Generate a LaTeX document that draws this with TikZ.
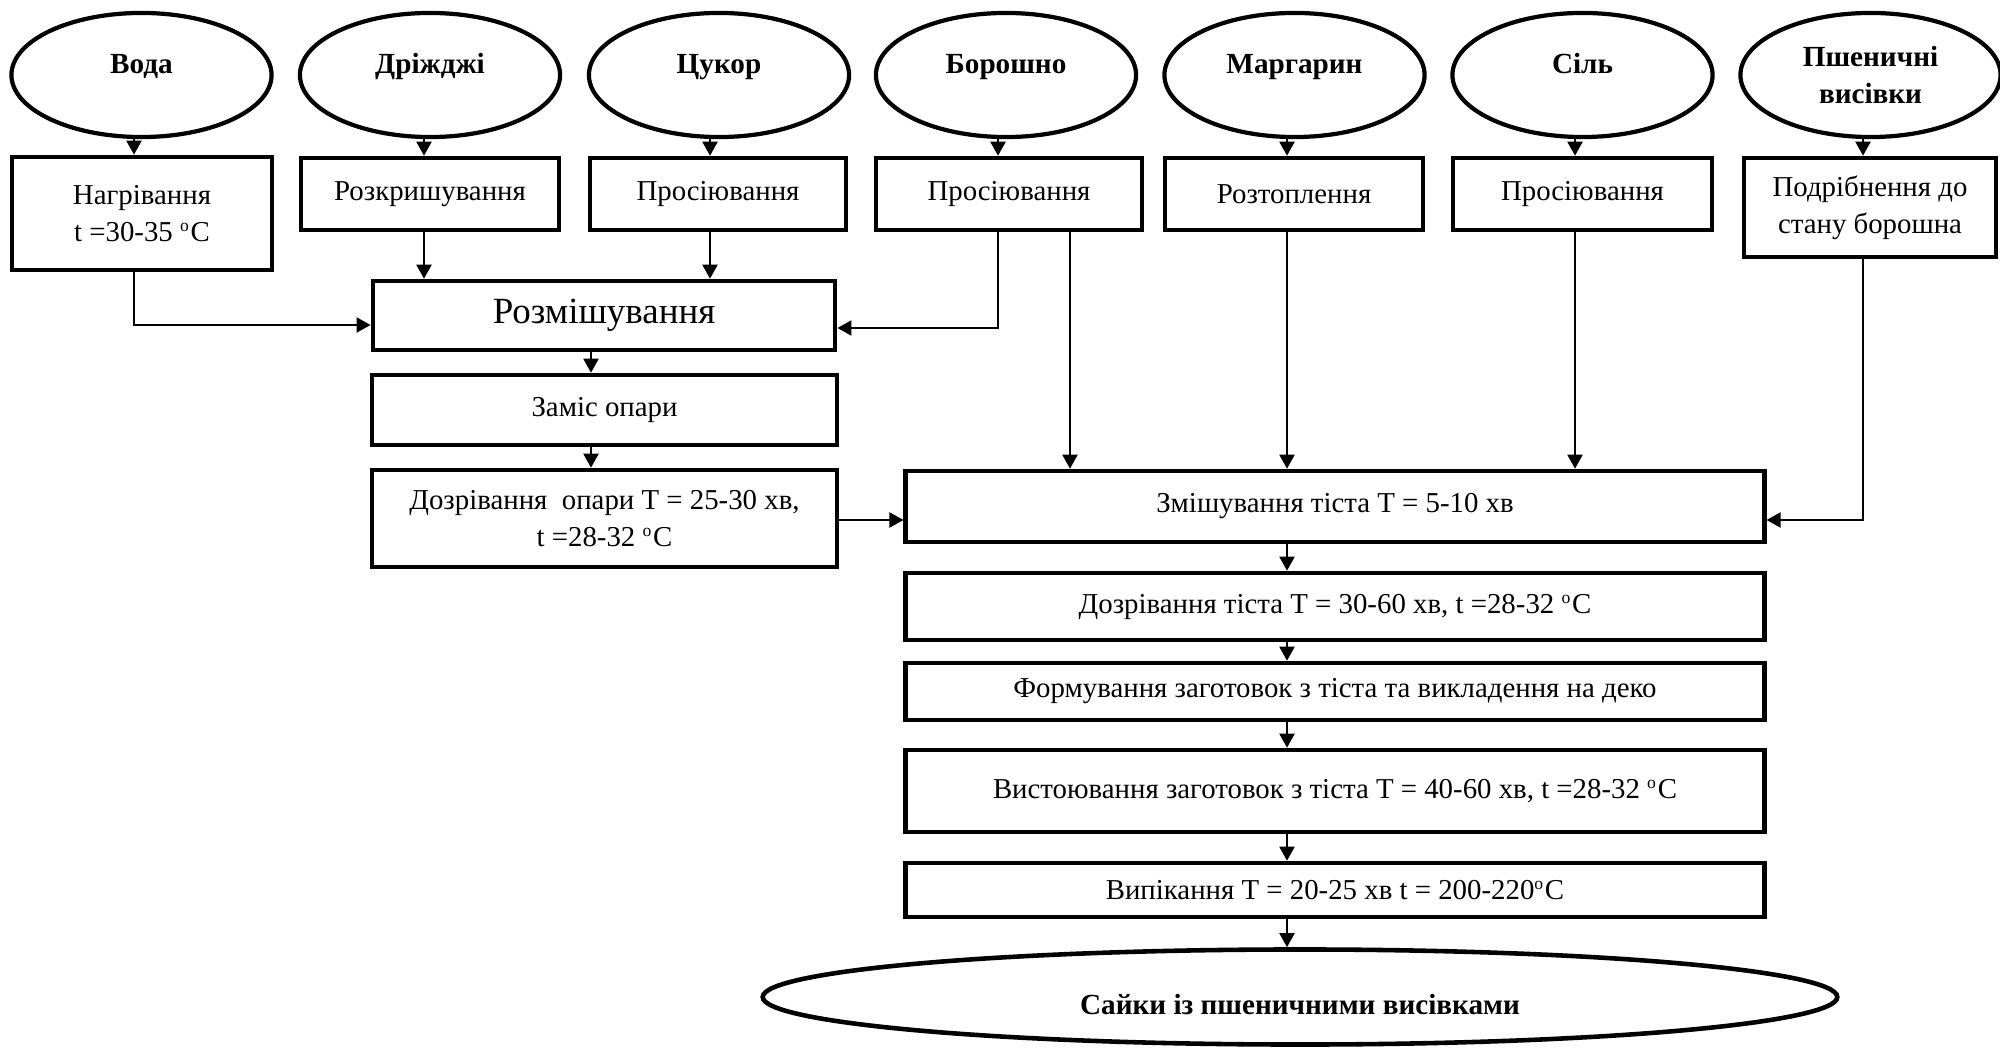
\documentclass[tikz,border=0pt]{standalone}
\usepackage{fontspec}
\setmainfont{Liberation Serif}
\usetikzlibrary{shapes.geometric,arrows.meta,positioning}

\newcommand{\degC}{\textsuperscript{\fontsize{5}{5}\selectfont o}C}

\tikzset{
  src/.style={ellipse, draw, line width=1.2pt, minimum width=2.6cm, minimum height=1.24cm,
    inner sep=0pt, align=center, font=\fontsize{8.3}{10.5}\selectfont\bfseries},
  srcone/.style={src, text height=6pt, text depth=7pt},
  opbox/.style={rectangle, draw, line width=1.3pt, inner sep=0pt, align=center,
    font=\fontsize{8.2}{10.5}\selectfont},
  arr/.style={line width=0.6pt, -{Triangle[length=0.14cm,width=0.15cm]}},
  ln/.style={line width=0.6pt}
}

\begin{document}
\begin{tikzpicture}[x=0.01cm, y=-0.01cm]
  \useasboundingbox (0,0) rectangle (2000,1049);

  % columns of the connectors
  \coordinate (c1) at (134,0);
  \coordinate (c2) at (424,0);
  \coordinate (c3) at (710,0);
  \coordinate (c4) at (998,0);
  \coordinate (c5) at (1070,0);
  \coordinate (c6) at (1287,0);
  \coordinate (c7) at (1575,0);
  \coordinate (c8) at (1863,0);
  \coordinate (cm) at (591,0);
  \coordinate (h1) at (0,325);
  \coordinate (h2) at (0,328);
  \coordinate (h3) at (0,520);

  % raw materials
  \node [srcone] (voda)   at (141.5,75)  {Вода};
  \node [srcone] (drizh)  at (430,75)    {Дріжджі};
  \node [srcone] (tsukor) at (719,75)    {Цукор};
  \node [srcone] (borosh) at (1006,75)   {Борошно};
  \node [srcone] (marg)   at (1294.5,75) {Маргарин};
  \node [srcone] (sil)    at (1582.5,75) {Сіль};
  \node [src]    (vysiv)  at (1870.5,75) {Пшеничні\\висівки};

  % preparation
  \node [opbox, minimum width=2.6cm, minimum height=1.13cm]  (nagriv) at (142,213.5)
    {Нагрівання\\t =30-35 \degC};
  \node [opbox, minimum width=2.58cm, minimum height=0.72cm] (rozkr)   at (430,194)  {Розкришування};
  \node [opbox, minimum width=2.56cm, minimum height=0.72cm] (prosiv1) at (718,194)  {Просіювання};
  \node [opbox, minimum width=2.66cm, minimum height=0.72cm] (prosiv2) at (1009,194) {Просіювання};
  \node [opbox, minimum width=2.58cm, minimum height=0.72cm] (roztop)  at (1294,194) {Розтоплення};
  \node [opbox, minimum width=2.59cm, minimum height=0.72cm] (prosiv3) at (1582.5,194) {Просіювання};
  \node [opbox, minimum width=2.52cm, minimum height=0.99cm] (podrib)  at (1870,207.5)
    {Подрібнення до\\стану борошна};

  % sponge
  \node [opbox, minimum width=4.62cm, minimum height=0.69cm, font=\fontsize{10.5}{12}\selectfont]
    (rozmish) at (604,315.5) {Розмішування};
  \node [opbox, minimum width=4.65cm, minimum height=0.70cm] (zamis) at (604.5,410) {Заміс опари};
  \node [opbox, minimum width=4.65cm, minimum height=0.97cm] (dozopary) at (604.5,518.5)
    {Дозрівання\ \ опари T = 25-30 хв,\\t =28-32 \degC};

  % dough
  \node [opbox, minimum width=8.58cm, minimum height=0.71cm] (zmish)    at (1335,506.5)
    {Змішування тіста T = 5-10 хв};
  \node [opbox, minimum width=8.58cm, minimum height=0.67cm] (doztista) at (1335,606.5)
    {Дозрівання тіста T = 30-60 хв, t =28-32 \degC};
  \node [opbox, minimum width=8.58cm, minimum height=0.57cm] (formuv)   at (1335,691.5)
    {Формування заготовок з тіста та викладення на деко};
  \node [opbox, minimum width=8.58cm, minimum height=0.82cm] (vystoy)   at (1335,791)
    {Вистоювання заготовок з тіста T = 40-60 хв, t =28-32 \degC};
  \node [opbox, minimum width=8.58cm, minimum height=0.54cm] (vypik)    at (1335,890)
    {Випікання T = 20-25 хв t = 200-220\degC};
  \node [ellipse, draw, line width=1.3pt, minimum width=10.74cm, minimum height=0.95cm,
    inner sep=0pt, text height=12pt, text depth=1.8pt,
    font=\fontsize{8.3}{10.5}\selectfont\bfseries] (saiky) at (1300,997)
    {Сайки із пшеничними висівками};

  % connectors
  \draw [arr] (voda.south -| c1)   -- (nagriv.north -| c1);
  \draw [arr] (drizh.south -| c2)  -- (rozkr.north -| c2);
  \draw [arr] (tsukor.south -| c3) -- (prosiv1.north -| c3);
  \draw [arr] (borosh.south -| c4) -- (prosiv2.north -| c4);
  \draw [arr] (marg.south -| c6)   -- (roztop.north -| c6);
  \draw [arr] (sil.south -| c7)    -- (prosiv3.north -| c7);
  \draw [arr] (vysiv.south -| c8)  -- (podrib.north -| c8);

  \draw [arr] (nagriv.south -| c1)  |- (h1 -| rozmish.west);
  \draw [arr] (rozkr.south -| c2)   -- (rozmish.north -| c2);
  \draw [arr] (prosiv1.south -| c3) -- (rozmish.north -| c3);
  \draw [arr] (prosiv2.south -| c4) |- (h2 -| rozmish.east);

  \draw [arr] (rozmish.south -| cm) -- (zamis.north -| cm);
  \draw [arr] (zamis.south -| cm)   -- (dozopary.north -| cm);
  \draw [arr] (dozopary.east |- h3) -- (zmish.west |- h3);

  \draw [arr] (prosiv2.south -| c5) -- (zmish.north -| c5);
  \draw [arr] (roztop.south -| c6)  -- (zmish.north -| c6);
  \draw [arr] (prosiv3.south -| c7) -- (zmish.north -| c7);
  \draw [arr] (podrib.south -| c8)  |- (h3 -| zmish.east);

  \draw [arr] (zmish.south -| c6)    -- (doztista.north -| c6);
  \draw [arr] (doztista.south -| c6) -- (formuv.north -| c6);
  \draw [arr] (formuv.south -| c6)   -- (vystoy.north -| c6);
  \draw [arr] (vystoy.south -| c6)   -- (vypik.north -| c6);
  \draw [arr] (vypik.south -| c6)    -- (saiky.north -| c6);
\end{tikzpicture}
\end{document}
